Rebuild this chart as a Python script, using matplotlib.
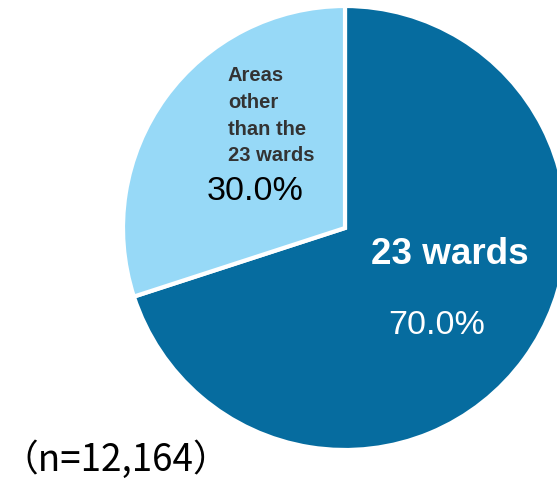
import matplotlib.pyplot as plt

# Share of respondents by area
labels = ['23 wards', 'Areas\nother\nthan the\n23 wards']
shares = [70.0, 30.0]
colors = ['#066c9f', '#97d9f7']
sample_note = '（n=12,164）'

W, H = 557, 486
fig = plt.figure(figsize=(W / 100, H / 100), dpi=100)
ax = fig.add_axes([0, 0, 1, 1])

ax.pie(shares, colors=colors, startangle=90, counterclock=False,
       center=(345, H - 228), radius=222, frame=True,
       wedgeprops=dict(edgecolor='white', linewidth=3))
ax.set_xlim(0, W)
ax.set_ylim(0, H)
ax.set_aspect('equal')
ax.axis('off')

# 23 wards
ax.text(450, H - 254, labels[0], color='white', fontsize=26.5,
        fontweight='bold', family='Liberation Sans', ha='center', va='center')
ax.text(437, H - 325, f'{shares[0]:.1f}%', color='white', fontsize=24.5,
        family='Liberation Sans', ha='center', va='center')

# other areas
ax.text(228, H - 66, labels[1], color='#333333', fontsize=14.5,
        fontweight='bold', family='Liberation Sans', ha='left', va='top',
        linespacing=1.52)
ax.text(255, H - 192, f'{shares[1]:.1f}%', color='black', fontsize=24.5,
        family='Liberation Sans', ha='center', va='center')

ax.text(1, H - 460, sample_note, color='black', fontsize=26.5,
        family=['Noto Sans CJK JP', 'DejaVu Sans'], ha='left', va='center')

fig.savefig('out.png', dpi=100)
